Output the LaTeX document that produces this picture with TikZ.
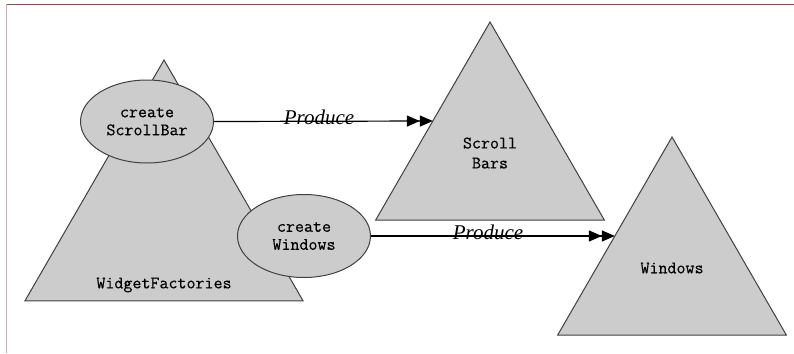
\documentclass[tikz,border=0pt]{standalone}
\usepackage{fontspec}
\setmainfont{Liberation Serif}
\newfontfamily\jmono{Latin Modern Mono}[FakeBold=0.4]
\usetikzlibrary{shapes.geometric,arrows.meta,calc}
\definecolor{shapefill}{RGB}{204,204,204}
\definecolor{shapeline}{RGB}{64,64,64}
\definecolor{topborder}{RGB}{125,85,85}
\definecolor{leftborder}{RGB}{192,176,176}
\begin{document}
\begin{tikzpicture}[x=1pt,y=-1pt,
  tri/.style={regular polygon, regular polygon sides=3, draw=shapeline, fill=shapefill, line width=1pt, inner sep=0pt, outer sep=0pt},
  ell/.style={ellipse, draw=shapeline, fill=shapefill, line width=1pt, inner sep=0pt, minimum width=133pt, minimum height=83pt, align=center, font=\jmono\fontsize{17.5}{18}\selectfont},
  lbl/.style={align=center, font=\jmono\fontsize{17.5}{20}\selectfont},
  produce/.style={line width=1.2pt, draw=black, -{Triangle[length=13pt,width=11pt]Triangle[length=13pt,width=11pt]}},
  plabel/.style={pos=0.48, yshift=3.5pt, font=\itshape\fontsize{21}{21}\selectfont, inner sep=0pt}
]
\useasboundingbox (0,0) rectangle (794,353);
\draw[topborder, line width=1pt] (6,4.3) -- (794,4.3);
\draw[leftborder, line width=1.6pt] (6.6,4) -- (6.6,353);

\node[tri, minimum size=321pt] (wf) at (164,220.5) {};
\node[tri, minimum size=264pt] (sb) at (490,154) {};
\node[tri, minimum size=264pt] (win) at (672,269) {};

\node[lbl] (wftext) at (164,285) {WidgetFactories};
\node[lbl] (sbtext) at (490,153) {Scroll\\Bars};
\node[lbl] (wintext) at (672,268) {Windows};

\node[ell] (csb) at (147,121.5) {create\\ScrollBar};
\node[ell] (cw) at (304,236) {create\\Windows};

\coordinate (sbin) at ($(sb.corner 1)!0.5!(sb.corner 2)$);
\coordinate (winin) at ($(win.corner 1)!0.5!(win.corner 2)$);

\draw[produce] (csb.east) -- node[plabel] (p1) {Produce} (sbin);
\draw[produce] (cw.east) -- node[plabel] (p2) {Produce} (winin);
\end{tikzpicture}
\end{document}
